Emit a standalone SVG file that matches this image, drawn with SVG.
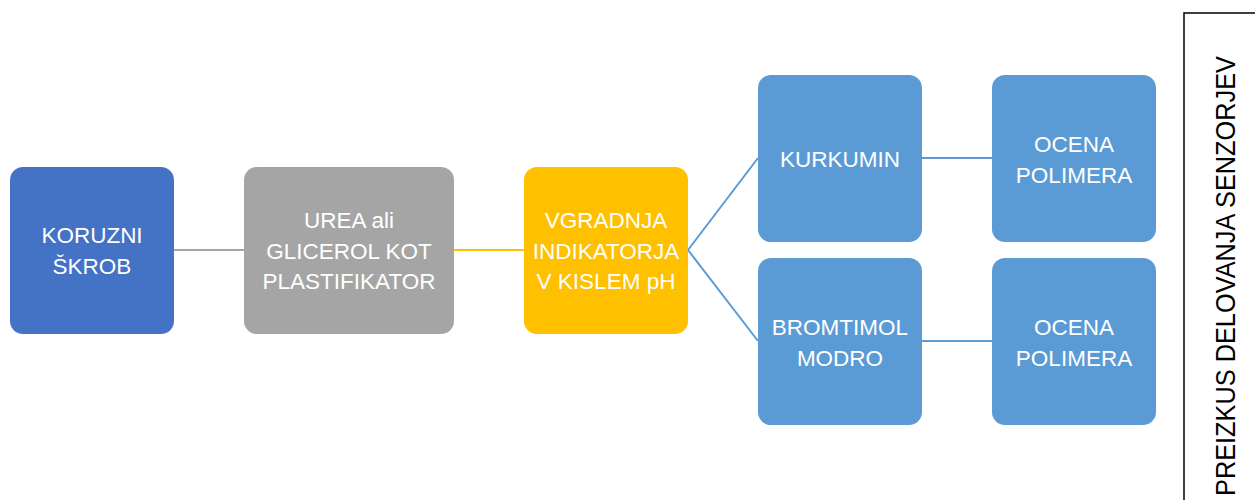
<svg xmlns="http://www.w3.org/2000/svg" width="1255" height="500" viewBox="0 0 1255 500">
<style>
.n{stroke:none}
.t{font-family:"Liberation Sans",Arial,sans-serif;font-size:22.5px;fill:#fff;text-anchor:middle}
.c{fill:none;stroke-width:2}
</style>
<rect width="1255" height="500" fill="#fff"/>
<g id="connectors">
<line class="c" x1="174" y1="250" x2="244" y2="250" stroke="#A5A5A5"/>
<line class="c" x1="454" y1="250" x2="524" y2="250" stroke="#FFC000"/>
<line class="c" x1="688" y1="250" x2="758" y2="158" stroke="#5B9BD5"/>
<line class="c" x1="688" y1="250" x2="758" y2="341" stroke="#5B9BD5"/>
<line class="c" x1="922" y1="158" x2="992" y2="158" stroke="#5B9BD5"/>
<line class="c" x1="922" y1="341" x2="992" y2="341" stroke="#5B9BD5"/>
</g>
<g id="koruzni">
<rect x="10" y="167" width="164" height="167" rx="13" fill="#4472C4"/>
<text class="t"><tspan x="92" y="243">KORUZNI</tspan><tspan x="92" y="274">ŠKROB</tspan></text>
</g>
<g id="urea">
<rect x="244" y="167" width="210" height="167" rx="13" fill="#A5A5A5"/>
<text class="t"><tspan x="349" y="228">UREA ali</tspan><tspan x="349" y="259">GLICEROL KOT</tspan><tspan x="349" y="289">PLASTIFIKATOR</tspan></text>
</g>
<g id="vgradnja">
<rect x="524" y="167" width="164" height="167" rx="13" fill="#FFC000"/>
<text class="t"><tspan x="606" y="228">VGRADNJA</tspan><tspan x="606" y="259">INDIKATORJA</tspan><tspan x="606" y="289">V KISLEM pH</tspan></text>
</g>
<g id="kurkumin">
<rect x="758" y="75" width="164" height="167" rx="13" fill="#5B9BD5"/>
<text class="t"><tspan x="840" y="167">KURKUMIN</tspan></text>
</g>
<g id="bromtimol">
<rect x="758" y="258" width="164" height="167" rx="13" fill="#5B9BD5"/>
<text class="t"><tspan x="840" y="335">BROMTIMOL</tspan><tspan x="840" y="366">MODRO</tspan></text>
</g>
<g id="ocena1">
<rect x="992" y="75" width="164" height="167" rx="13" fill="#5B9BD5"/>
<text class="t"><tspan x="1074" y="152">OCENA</tspan><tspan x="1074" y="183">POLIMERA</tspan></text>
</g>
<g id="ocena2">
<rect x="992" y="258" width="164" height="167" rx="13" fill="#5B9BD5"/>
<text class="t"><tspan x="1074" y="335">OCENA</tspan><tspan x="1074" y="366">POLIMERA</tspan></text>
</g>
<g id="preizkus">
<rect x="1184" y="13" width="100" height="520" fill="#fff" stroke="#000" stroke-width="1.5"/>
<text transform="translate(1235,496) rotate(-90)" font-family="'Liberation Sans',Arial,sans-serif" font-size="27" fill="#000" textLength="440" lengthAdjust="spacingAndGlyphs">PREIZKUS DELOVANJA SENZORJEV</text>
</g>
</svg>
